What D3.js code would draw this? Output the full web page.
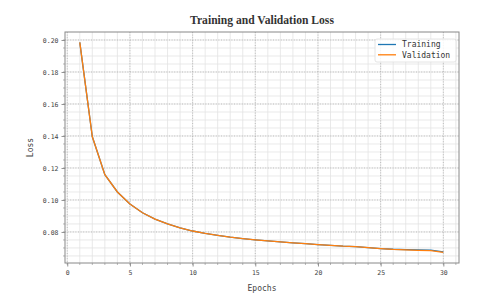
<!DOCTYPE html>
<html><head><meta charset="utf-8">
<script src="https://cdn.jsdelivr.net/npm/d3@7"></script>
<style>body{margin:0;background:#fff}svg{display:block}</style>
</head><body>
<script>
const epochs = d3.range(1, 31);
const training = [0.1985,0.1395,0.1158,0.1050,0.0975,0.0920,0.0880,0.0850,0.0826,0.0806,0.0791,0.0779,0.0768,0.0759,0.0751,0.0744,0.0738,0.0732,0.0727,0.0721,0.0716,0.0711,0.0708,0.0702,0.0696,0.0692,0.0690,0.0688,0.0686,0.0675];
const validation = [0.1985,0.1395,0.1158,0.1050,0.0975,0.0920,0.0880,0.0850,0.0826,0.0806,0.0791,0.0779,0.0768,0.0759,0.0751,0.0744,0.0738,0.0732,0.0727,0.0721,0.0716,0.0711,0.0708,0.0702,0.0696,0.0691,0.0688,0.0685,0.0683,0.0673];
const xTicks = [0,5,10,15,20,25,30];
const yTicks = [0.08,0.10,0.12,0.14,0.16,0.18,0.20];
const seriesNames = ["Training","Validation"];
const colors = ["#1f77b4","#ff7f0e"];

const W=504,H=304, L=65, R=459, T=32, B=263;
const svg = d3.select("body").append("svg").attr("width",W).attr("height",H);
const x = d3.scaleLinear().domain([-0.18,31.25]).range([L,R]);
const y = d3.scaleLinear().domain([0.0606,0.205]).range([B,T]);

// minor grid
const xMinor = d3.range(0,32,1), yMinor = d3.range(0.065,0.205,0.005);
const g = svg.append("g");
g.selectAll(".xm").data(xMinor).join("line").attr("x1",d=>x(d)).attr("x2",d=>x(d)).attr("y1",T).attr("y2",B)
 .attr("stroke","#e3e3e3").attr("stroke-width",0.8);
g.selectAll(".ym").data(yMinor).join("line").attr("y1",d=>y(d)).attr("y2",d=>y(d)).attr("x1",L).attr("x2",R)
 .attr("stroke","#e3e3e3").attr("stroke-width",0.8);
// major grid
g.selectAll(".xM").data(xTicks).join("line").attr("x1",d=>x(d)).attr("x2",d=>x(d)).attr("y1",T).attr("y2",B)
 .attr("stroke","#b0b0b0").attr("stroke-width",0.8).attr("stroke-dasharray","1,1.6");
g.selectAll(".yM").data(yTicks).join("line").attr("y1",d=>y(d)).attr("y2",d=>y(d)).attr("x1",L).attr("x2",R)
 .attr("stroke","#b0b0b0").attr("stroke-width",0.8).attr("stroke-dasharray","1,1.6");

// lines
const line = d3.line().x((d,i)=>x(epochs[i])).y(d=>y(d));
[training, validation].forEach((s,k)=>{
  svg.append("path").datum(s).attr("d",line).attr("fill","none").attr("stroke",colors[k]).attr("stroke-width",1.3);
});

// axes
const font = "'DejaVu Sans Mono', monospace";
const xa = svg.append("g").attr("transform",`translate(0,${B})`)
  .call(d3.axisBottom(x).tickValues(xTicks).tickSize(3.5).tickPadding(4).tickFormat(d3.format("d")));
const ya = svg.append("g").attr("transform",`translate(${L},0)`)
  .call(d3.axisLeft(y).tickValues(yTicks).tickSize(3.5).tickPadding(3).tickFormat(d3.format(".2f")));
[xa,ya].forEach(a=>{
  a.select(".domain").remove();
  a.selectAll("line").attr("stroke","#777").attr("stroke-width",0.8);
  a.selectAll("text").attr("fill","#444").style("font-family",font).style("font-size","6.5px");
});
svg.append("g").selectAll("line").data(xMinor).join("line").attr("x1",d=>x(d)).attr("x2",d=>x(d)).attr("y1",B).attr("y2",B+2)
  .attr("stroke","#888").attr("stroke-width",0.6);
svg.append("g").selectAll("line").data(yMinor).join("line").attr("y1",d=>y(d)).attr("y2",d=>y(d)).attr("x1",L).attr("x2",L-2)
  .attr("stroke","#888").attr("stroke-width",0.6);

// frame
svg.append("rect").attr("x",L).attr("y",T).attr("width",R-L).attr("height",B-T)
  .attr("fill","none").attr("stroke","#888").attr("stroke-width",1);

// titles
svg.append("text").attr("x",(L+R)/2).attr("y",24).attr("text-anchor","middle")
  .style("font-family","'Liberation Serif', 'Times New Roman', serif").style("font-weight","bold").style("font-size","11.6px")
  .attr("fill","#333").text("Training and Validation Loss");
svg.append("text").attr("x",(L+R)/2).attr("y",291).attr("text-anchor","middle")
  .style("font-family",font).style("font-size","8px").attr("fill","#444").text("Epochs");
svg.append("text").attr("transform",`translate(33,${(T+B)/2}) rotate(-90)`).attr("text-anchor","middle")
  .style("font-family",font).style("font-size","8px").attr("fill","#444").text("Loss");

// legend
const lg = svg.append("g");
lg.append("rect").attr("x",375).attr("y",39).attr("width",81).attr("height",23).attr("rx",2)
  .attr("fill","#fff").attr("fill-opacity",0.85).attr("stroke","#ddd").attr("stroke-width",0.8);
seriesNames.forEach((n,k)=>{
  const yy = 44.5 + k*10.3;
  lg.append("line").attr("x1",378).attr("x2",396).attr("y1",yy).attr("y2",yy).attr("stroke",colors[k]).attr("stroke-width",1.3);
  lg.append("text").attr("x",402).attr("y",yy+2.7).style("font-family",font).style("font-size","8px").attr("fill","#333").text(n);
});
</script>
</body></html>
